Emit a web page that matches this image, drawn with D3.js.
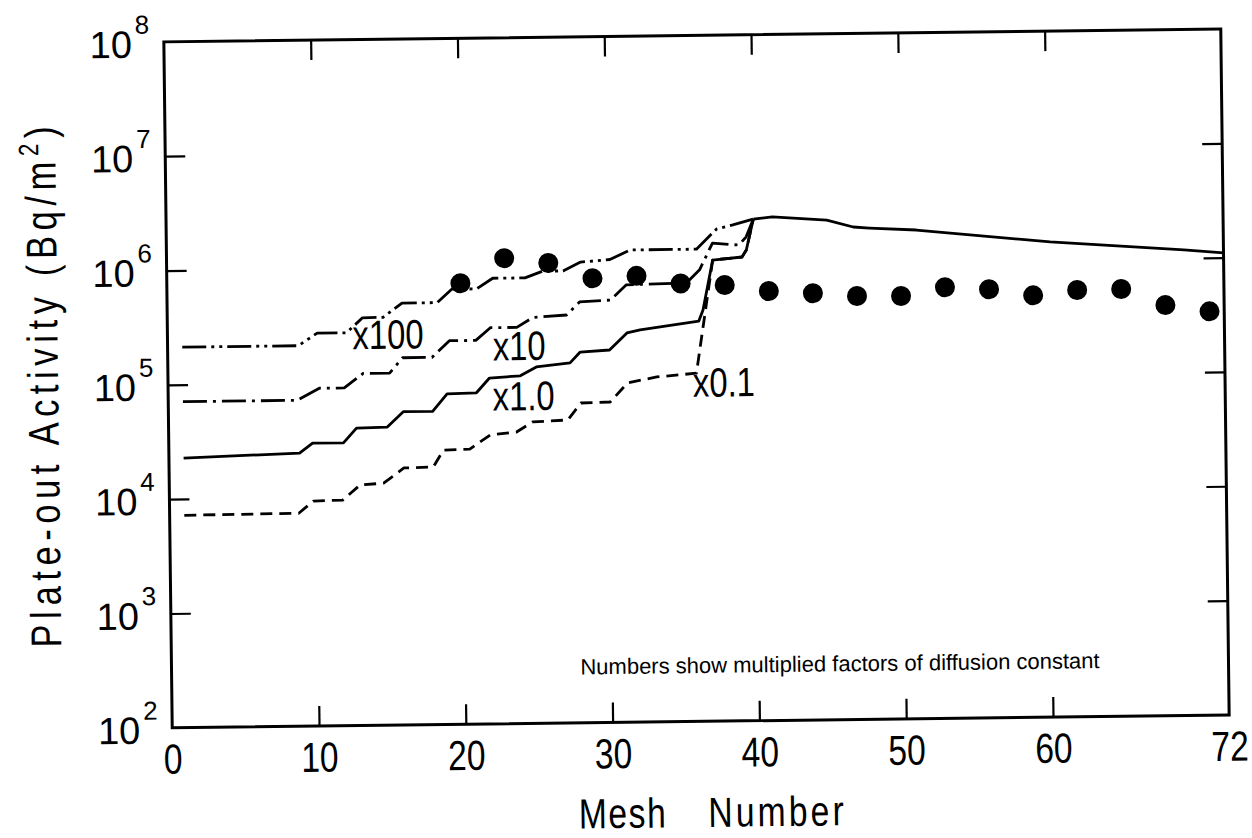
<!DOCTYPE html>
<html>
<head>
<meta charset="utf-8">
<script src="https://cdn.jsdelivr.net/npm/d3@7"></script>
<style>
  html, body { margin: 0; padding: 0; background: #fff; }
  svg { display: block; }
</style>
</head>
<body>
<svg id="chart" width="1252" height="838"></svg>
<script>
// Measured plate-out activity (Bq/m^2) at mesh positions
const measuredMesh = [20, 23, 26, 29, 32, 35, 38, 41, 44, 47, 50, 53, 56, 59, 62, 65, 68, 71];
const measuredActivity = [7.2e5, 1.18e6, 1.06e6, 7.7e5, 8.0e5, 6.8e5, 6.5e5, 5.7e5, 5.4e5, 5.05e5,
                          5.0e5, 5.9e5, 5.6e5, 4.9e5, 5.4e5, 5.45e5, 3.9e5, 3.4e5];

// Calculated profiles, diffusion constant multiplied by 100
const meshX100 = [1, 8.9, 10.2, 12.2, 13.3, 14.7, 16.0, 18.4, 19.4, 21.1, 22.2, 24.4, 25.6, 27.0,
                  28.2, 30.2, 31.6, 36.1, 37.5, 38.6, 40];
const activityX100 = [2.13e5, 2.13e5, 2.73e5, 2.73e5, 3.68e5, 3.70e5, 4.9e5, 4.9e5, 6.4e5, 6.4e5,
                      7.9e5, 7.9e5, 9.0e5, 9.0e5, 1.07e6, 1.12e6, 1.35e6, 1.35e6, 2.02e6, 2.18e6, 2.44e6];

// ... multiplied by 10
const meshX10 = [1, 8.8, 10.3, 12.0, 13.3, 15.1, 16.0, 18.0, 19.2, 21.0, 22.0, 23.8, 24.9, 27.2,
                 28.1, 30.2, 31.3, 35.4, 36.3, 37.2, 39.0, 39.5, 40];
const activityX10 = [7.1e4, 7.1e4, 9.0e4, 9.0e4, 1.2e5, 1.2e5, 1.63e5, 1.63e5, 2.27e5, 2.27e5,
                     2.92e5, 2.92e5, 3.55e5, 3.7e5, 4.8e5, 4.95e5, 6.7e5, 6.85e5, 8.9e5, 1.52e6,
                     1.45e6, 1.71e6, 2.44e6];

// ... multiplied by 1.0
const meshX1 = [1, 8.9, 9.8, 11.9, 12.8, 14.9, 16.0, 18.0, 19.0, 21.0, 21.9, 24.0, 25.1, 27.4,
                28.1, 30.1, 31.3, 32.2, 36.2, 36.5, 37.2, 39.2, 39.5, 40];
const activityX1 = [2.28e4, 2.45e4, 2.98e4, 2.98e4, 4.0e4, 4.05e4, 5.5e4, 5.5e4, 7.8e4, 7.9e4,
                    1.06e5, 1.1e5, 1.31e5, 1.41e5, 1.75e5, 1.81e5, 2.54e5, 2.69e5, 3.16e5, 3.96e5,
                    1.08e6, 1.14e6, 1.31e6, 2.44e6];

// ... multiplied by 0.1
const meshX01 = [1, 8.8, 9.8, 11.8, 13.0, 14.6, 16.0, 18.0, 18.7, 20.5, 21.9, 23.7, 24.8, 27.2,
                 28.1, 30.1, 31.3, 33.3, 36.0, 37.2, 39.2, 39.5, 40];
const activityX01 = [7.2e3, 7.3e3, 9.3e3, 9.4e3, 1.27e4, 1.31e4, 1.77e4, 1.79e4, 2.51e4, 2.55e4,
                     3.37e4, 3.55e4, 4.33e4, 4.47e4, 6.27e4, 6.35e4, 9.3e4, 1.04e5, 1.11e5, 1.08e6,
                     1.14e6, 1.31e6, 2.44e6];

// Downstream part shared by all factors
const meshShared = [40, 41.3, 45.0, 46.8, 47.9, 51.1, 60.2, 69.3, 72];
const activityShared = [2.44e6, 2.54e6, 2.35e6, 2.03e6, 1.98e6, 1.88e6, 1.43e6, 1.18e6, 1.1e6];

// Curve labels and where they sit (mesh, activity of the label's baseline start)
const curveLabels = ["x100", "x10", "x1.0", "x0.1"];
const curveLabelMesh = [12.6, 22.15, 22.1, 35.75];
const curveLabelActivity = [1.96e5, 1.51e5, 5.5e4, 6.9e4];

// Axis ticks
const xTickValues = [0, 10, 20, 30, 40, 50, 60, 72];
const xTickLabels = ["0", "10", "20", "30", "40", "50", "60", "72"];
const xInnerTicks = [10, 20, 30, 40, 50, 60];
const yExponents = [2, 3, 4, 5, 6, 7, 8];

const SANS = "'Liberation Sans',Arial,Helvetica,sans-serif";
const SQUEEZE = 0.8;   // horizontal squeeze for the condensed plotter lettering

const L = 168, R = 1225, T = 35.4, B = 721.4;
const svg = d3.select("#chart");
svg.append("rect").attr("width", 1252).attr("height", 838).attr("fill", "#fff");

// the whole sheet sits at a slight tilt
const sheet = svg.append("g").attr("transform", "rotate(-0.7,696.5,378.4)");

const xScale = d3.scaleLinear().domain([0, 72]).range([L, R]);
const yScale = d3.scaleLog().domain([1e2, 1e8]).range([B, T]);
const yTickValues = yExponents.map(e => Math.pow(10, e));

function styleTicks(sel) {
  sel.select(".domain").remove();
  sel.selectAll(".tick line").attr("stroke", "#000").attr("stroke-width", 2.2);
}

// bottom axis: inward ticks and labels
const axisB = sheet.append("g").attr("transform", `translate(0,${B})`)
  .call(d3.axisBottom(xScale).tickValues(xTickValues).tickSizeInner(-20).tickSizeOuter(0)
    .tickPadding(16).tickFormat((d, i) => xTickLabels[i]));
styleTicks(axisB);
axisB.selectAll(".tick line").filter(d => !xInnerTicks.includes(d)).remove();
axisB.selectAll(".tick text").attr("font-family", SANS).attr("font-size", 42).attr("fill", "#000")
  .attr("transform", `scale(${SQUEEZE},1)`);

// top axis: inward ticks only
const axisT = sheet.append("g").attr("transform", `translate(0,${T})`)
  .call(d3.axisTop(xScale).tickValues(xInnerTicks).tickSizeInner(-20).tickSizeOuter(0).tickFormat(""));
styleTicks(axisT);

// left axis with power-of-ten labels
const axisL = sheet.append("g").attr("transform", `translate(${L},0)`)
  .call(d3.axisLeft(yScale).tickValues(yTickValues).tickSizeInner(-20).tickSizeOuter(0).tickFormat(""));
styleTicks(axisL);
axisL.selectAll(".tick line").filter(d => d === 1e2 || d === 1e8).remove();
axisL.selectAll(".tick").each(function (d) {
  const t = d3.select(this);
  t.append("text").attr("x", -32).attr("y", 15).attr("text-anchor", "end")
    .attr("font-family", SANS).attr("font-size", 38).attr("fill", "#000").text("10");
  t.append("text").attr("x", -29).attr("y", -9).attr("text-anchor", "start")
    .attr("font-family", SANS).attr("font-size", 26).attr("fill", "#000")
    .text(String(Math.round(Math.log10(d))));
});

// right axis: inward ticks only
const axisR = sheet.append("g").attr("transform", `translate(${R},0)`)
  .call(d3.axisRight(yScale).tickValues(yTickValues.slice(1, -1)).tickSizeInner(-20).tickSizeOuter(0).tickFormat(""));
styleTicks(axisR);

// frame
sheet.append("rect").attr("x", L).attr("y", T).attr("width", R - L).attr("height", B - T)
  .attr("fill", "none").attr("stroke", "#000").attr("stroke-width", 3);

// calculated curves
const line = d3.line().x(d => xScale(d[0])).y(d => yScale(d[1]));
const zip = (a, b) => a.map((v, i) => [v, b[i]]);
const curves = [
  { pts: zip(meshX100, activityX100), dash: "24,5,3,5,3,5" },
  { pts: zip(meshX10, activityX10), dash: "24,6,3,6" },
  { pts: zip(meshX1, activityX1), dash: null },
  { pts: zip(meshX01, activityX01), dash: "12,7" },
  { pts: zip(meshShared, activityShared), dash: null }
];
sheet.append("g").selectAll("path").data(curves).join("path")
  .attr("d", c => line(c.pts))
  .attr("fill", "none").attr("stroke", "#000").attr("stroke-width", 2.8)
  .attr("stroke-linejoin", "round")
  .attr("stroke-dasharray", c => c.dash);

// curve labels
sheet.append("g").selectAll("text").data(curveLabels).join("text")
  .attr("transform", (d, i) =>
    `translate(${xScale(curveLabelMesh[i])},${yScale(curveLabelActivity[i])}) scale(${SQUEEZE},1)`)
  .attr("font-family", SANS).attr("font-size", 41).attr("fill", "#000")
  .text(d => d);

// measured points
sheet.append("g").selectAll("circle").data(zip(measuredMesh, measuredActivity)).join("circle")
  .attr("cx", d => xScale(d[0])).attr("cy", d => yScale(d[1])).attr("r", 10).attr("fill", "#000");

// note inside the plot
sheet.append("text").attr("x", 836.5).attr("y", 673).attr("text-anchor", "middle")
  .attr("font-family", SANS).attr("font-size", 22).attr("fill", "#000")
  .text("Numbers show multiplied factors of diffusion constant");

// axis titles
sheet.append("text").attr("transform", `translate(662,827) scale(${SQUEEZE},1)`)
  .attr("text-anchor", "end")
  .attr("font-family", SANS).attr("font-size", 42).attr("fill", "#000")
  .attr("letter-spacing", 2).text("Mesh");
sheet.append("text").attr("transform", `translate(703,827) scale(${SQUEEZE},1)`)
  .attr("text-anchor", "start")
  .attr("font-family", SANS).attr("font-size", 42).attr("fill", "#000")
  .attr("letter-spacing", 4).text("Number");

const yTitle = sheet.append("text")
  .attr("transform", `translate(58,379) rotate(-90) scale(${SQUEEZE},1)`)
  .attr("text-anchor", "middle")
  .attr("font-family", SANS).attr("font-size", 43).attr("fill", "#000")
  .attr("textLength", 521 / SQUEEZE).attr("lengthAdjust", "spacing");
yTitle.append("tspan").text("Plate-out  Activity  (Bq/m");
yTitle.append("tspan").attr("font-size", 28).attr("dy", -17).text("2");
yTitle.append("tspan").attr("dy", 17).text(")");
</script>
</body>
</html>
